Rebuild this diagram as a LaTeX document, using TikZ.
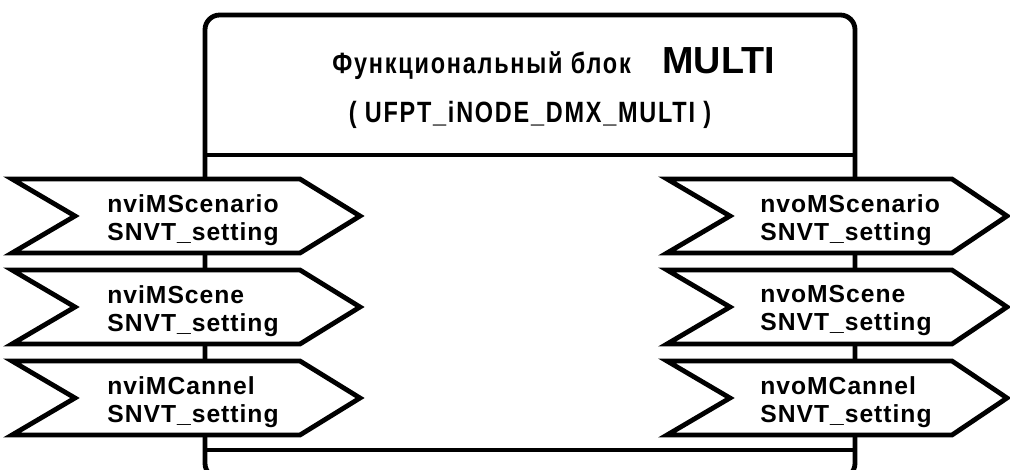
\documentclass[tikz,border=0pt]{standalone}
\usepackage{fontspec}
\setmainfont{Liberation Sans}
\newfontfamily\sigfont[LetterSpace=4]{Liberation Sans}
\newfontfamily\headfont[FakeStretch=0.8,LetterSpace=6]{Liberation Sans}

\begin{document}
\begin{tikzpicture}[x=0.75pt,y=-0.75pt,line width=3.6pt,
    sig/.style={draw=black,fill=white,line join=miter},
    siglabel/.style={anchor=west,align=left,inner sep=0pt,
      font=\sigfont\bfseries\fontsize{18.5}{21}\selectfont},
    headlabel/.style={inner sep=0pt,font=\headfont\bfseries\fontsize{22}{26}\selectfont}]
  \clip (0,0) rectangle (1010,470);
  % block body
  \draw[rounded corners=11pt] (205,15) rectangle (855,478);
  \draw (205,155) -- (855,155);
  \draw (205,450) -- (855,450);
  \node[headlabel,anchor=base west] (fbtitle) at (330,74) {Функциональный блок};
  \node[inner sep=0pt,anchor=base west,font=\bfseries\fontsize{28.3}{32}\selectfont] (fbname) at (660,74) {MULTI};
  \node[headlabel,anchor=base] (fbtype) at (530,123) {( UFPT\_iNODE\_DMX\_MULTI )};
  % inputs and outputs
  \foreach \yc/\iname/\oname [count=\k] in {216/nviMScenario/nvoMScenario,307/nviMScene/nvoMScene,398/nviMCannel/nvoMCannel}{
    \draw[sig] (12,\yc-37) -- (300,\yc-37) -- (360,\yc) -- (300,\yc+37) -- (12,\yc+37) -- (75,\yc) -- cycle;
    \draw[sig] (667,\yc-37) -- (952,\yc-37) -- (1007,\yc) -- (952,\yc+37) -- (667,\yc+37) -- (730,\yc) -- cycle;
    \node[siglabel] (in\k) at (105,\yc+4) {\iname\\SNVT\_setting};
    \node[siglabel] (out\k) at (758,\yc+4) {\oname\\SNVT\_setting};
  }
\end{tikzpicture}
\end{document}
